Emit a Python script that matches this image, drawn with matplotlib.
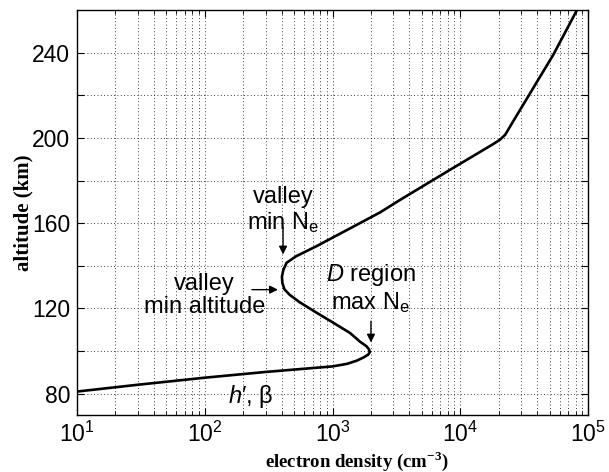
import numpy as np
import matplotlib
matplotlib.use("Agg")
from matplotlib import pyplot as plt, ticker

plt.rcParams["font.family"] = "Liberation Sans"
plt.rcParams["mathtext.fontset"] = "custom"
plt.rcParams["mathtext.rm"] = "Liberation Sans"
plt.rcParams["mathtext.it"] = "Liberation Sans:italic"
plt.rcParams["mathtext.bf"] = "Liberation Serif:bold"

# electron density profile
ne = [10, 30, 100, 300, 1000, 1300, 1550, 1750, 1900, 1960, 1930, 1850, 1650,
      1370, 1000, 750, 550, 460, 420, 405, 402, 412, 437, 520, 750, 2350, 3400,
      8300, 18000, 20500, 22500, 25500, 53500, 82000]
alt = [81, 84.2, 87.5, 90.2, 92.8, 94, 95.5, 97, 98.3, 99.5, 100.8, 102.2, 104.3,
       108.5, 113.5, 118, 123, 126.5, 129, 132, 135, 138, 141.4, 144.5, 149.2, 165, 171,
       185, 197, 199.2, 201.5, 207, 239, 260]

yticks = np.arange(80, 241, 20)
ylabels = [str(v) if v % 40 == 0 else "" for v in yticks]
xticks = [1e1, 1e2, 1e3, 1e4, 1e5]
xlabels = [r"$10^{1}$", r"$10^{2}$", r"$10^{3}$", r"$10^{4}$", r"$10^{5}$"]

fig = plt.figure(figsize=(6.09, 4.72), dpi=100)
ax = fig.add_axes([77 / 609, 1 - 415 / 472, 511 / 609, 405 / 472])

ax.plot(ne, alt, color="k", lw=1.9, solid_joinstyle="round")

ax.set_xscale("log")
ax.set_xlim(1e1, 1e5)
ax.set_ylim(70, 260)
ax.set_xticks(xticks)
ax.set_xticklabels(xlabels)
ax.xaxis.set_minor_locator(ticker.LogLocator(base=10, subs=np.arange(2, 10)))
ax.xaxis.set_minor_formatter(ticker.NullFormatter())
ax.set_yticks(yticks)
ax.set_yticklabels(ylabels)

ax.grid(True, which="both", axis="x", ls=(0, (1, 3)), color="k", lw=0.6)
ax.grid(True, which="major", axis="y", ls=(0, (1, 3)), color="k", lw=0.6)
ax.tick_params(which="both", direction="in", top=True, right=True, labelsize=16.5, pad=5)
ax.tick_params(which="major", length=5, width=0.8)
ax.tick_params(which="minor", length=3, width=0.6)
for s in ax.spines.values():
    s.set_linewidth(1.0)

ax.set_xlabel(r"electron density (cm$^{\mathbf{-3}}$)", family="Liberation Serif",
              weight="bold", fontsize=13.5)
ax.xaxis.set_label_coords(0.548, -0.085)
ax.set_ylabel("altitude (km)", family="Liberation Serif", weight="bold", fontsize=15)
ax.yaxis.set_label_coords(-0.085, 0.5)

arrow = dict(arrowstyle="-|>", color="k", lw=1.0, mutation_scale=12, shrinkA=0, shrinkB=0)
fs = 17

ax.text(410, 166, "valley\nmin N$_\\mathrm{e}$", ha="center", va="center", fontsize=fs,
        linespacing=1.1)
ax.annotate("", xy=(410, 145.3), xytext=(410, 158), arrowprops=arrow)

ax.text(100, 126, "valley\nmin altitude", ha="center", va="center", fontsize=fs,
        linespacing=1.1)
ax.annotate("", xy=(374, 128.8), xytext=(234, 128.8), arrowprops=arrow)

ax.text(2000, 129.5, "$\\mathit{D}$ region\nmax N$_\\mathrm{e}$", ha="center", va="center",
        fontsize=fs, linespacing=1.1)
ax.annotate("", xy=(2000, 104), xytext=(2000, 114), arrowprops=arrow)

ax.text(152, 78.7, "$\\mathit{h}$′, β", ha="left", va="center", fontsize=fs)

fig.savefig("out.png", dpi=100)
